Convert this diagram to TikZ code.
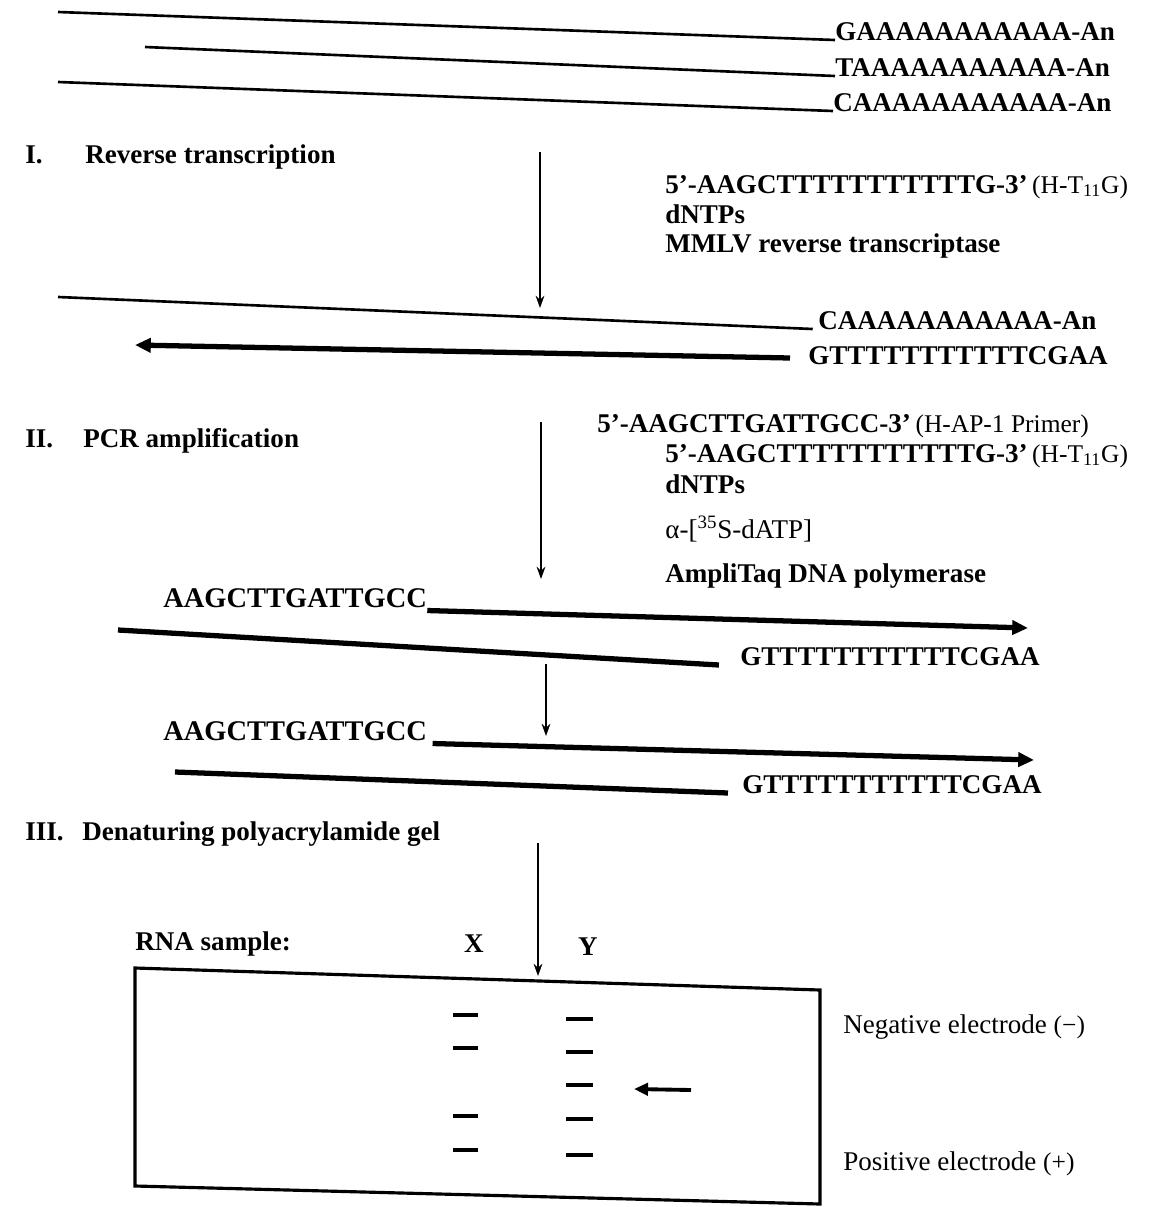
\documentclass[tikz,border=0pt]{standalone}
\usepackage{fontspec}
\setmainfont{Liberation Serif}
\usetikzlibrary{arrows.meta}
\newcommand{\tagfont}{\fontsize{14.5}{16}\selectfont\mdseries}
\begin{document}
\begin{tikzpicture}[x=0.02cm,y=-0.02cm,
	txt/.style={inner sep=0pt,anchor=base west,font=\fontsize{15.4}{18}\selectfont\bfseries},
	plain/.style={inner sep=0pt,anchor=base west,font=\fontsize{15.4}{18}\selectfont},
	primer/.style={inner sep=0pt,anchor=base west,font=\fontsize{16.2}{19}\selectfont\bfseries},
	strand/.style={line width=1.5pt},
	newstrand/.style={line width=3pt},
	extend/.style={newstrand,-{Triangle[length=9pt,width=8pt]}},
	flow/.style={line width=0.8pt,-{Stealth[length=7pt,width=5pt]}},
	band/.style={line width=1.8pt}]
	\useasboundingbox (0,0) rectangle (1149,1207);
	
	% mRNA templates
	\coordinate (m1) at (58,12);
	\coordinate (m2) at (145,47);
	\coordinate (m3) at (58,82);
	\node[txt] (p1) at (835,40) {GAAAAAAAAAAA-An};
	\node[txt] (p2) at (835,76) {TAAAAAAAAAAA-An};
	\node[txt] (p3) at (833,111) {CAAAAAAAAAAA-An};
	\draw[strand] (m1) -- (p1.base west);
	\draw[strand] (m2) -- (p2.base west);
	\draw[strand] (m3) -- (p3.base west);
	
	% I. reverse transcription
	\node[txt] (n1) at (25,163) {I.};
	\node[txt] (rt) at (85,163) {Reverse transcription};
	\node[txt] (rta) at (665,193) {5’-AAGCTTTTTTTTTTTG-3’\,{\tagfont(H-T\textsubscript{11}G)}};
	\node[txt] (rtb) at (665,223) {dNTPs};
	\node[txt] (rtc) at (665,252) {MMLV reverse transcriptase};
	\coordinate (a1s) at (540,152);
	\coordinate (a1e) at (540,308);
	\draw[flow] (a1s) -- (a1e);
	
	\coordinate (m4) at (58,297);
	\node[txt] (p4) at (818,329) {CAAAAAAAAAAA-An};
	\draw[strand] (m4) -- ([xshift=-3pt]p4.base west);
	\coordinate (c1s) at (790,358);
	\coordinate (c1e) at (135,345);
	\node[txt] (q1) at (808,364) {GTTTTTTTTTTTCGAA};
	\draw[extend] (c1s) -- (c1e);
	
	% II. PCR amplification
	\node[txt] (n2) at (25,447) {II.};
	\node[txt] (pcr) at (83,447) {PCR amplification};
	\node[txt] (pa) at (597,432) {5’-AAGCTTGATTGCC-3’\,{\tagfont(H-AP-1 Primer)}};
	\node[txt] (pb) at (665,462) {5’-AAGCTTTTTTTTTTTG-3’\,{\tagfont(H-T\textsubscript{11}G)}};
	\node[txt] (pc) at (665,493) {dNTPs};
	\node[txt] (pd) at (665,538) {\mdseries α-[\textsuperscript{35}S-dATP]};
	\node[txt] (pe) at (665,582) {AmpliTaq DNA polymerase};
	\coordinate (a2s) at (541,422);
	\coordinate (a2e) at (541,579);
	\draw[flow] (a2s) -- (a2e);
	
	\node[primer] (f1) at (163,607) {AAGCTTGATTGCC};
	\coordinate (f1e) at (1028,628);
	\draw[extend] ([yshift=-2pt]f1.base east) -- (f1e);
	\coordinate (r1) at (118,630);
	\node[txt] (q2) at (740,665) {GTTTTTTTTTTTCGAA};
	\draw[newstrand] (r1) -- ([xshift=-12pt]q2.base west);
	
	\coordinate (a3s) at (546,664);
	\coordinate (a3e) at (546,736);
	\draw[flow] (a3s) -- (a3e);
	
	\node[primer] (f2) at (163,740) {AAGCTTGATTGCC};
	\coordinate (f2e) at (1034,760);
	\draw[extend] ([xshift=3pt,yshift=-2pt]f2.base east) -- (f2e);
	\coordinate (r2) at (175,772);
	\node[txt] (q3) at (742,793) {GTTTTTTTTTTTCGAA};
	\draw[newstrand] (r2) -- ([xshift=-8pt]q3.base west);
	
	% III. gel
	\node[txt] (n3) at (25,840) {III.};
	\node[txt] (gel) at (82,840) {Denaturing polyacrylamide gel};
	\coordinate (a4s) at (538,843);
	\coordinate (a4e) at (538,976);
	\draw[flow] (a4s) -- (a4e);
	
	\node[txt] (rna) at (135,950) {RNA sample:};
	\node[txt,anchor=base] (x) at (474,952) {X};
	\node[txt,anchor=base] (y) at (588,955) {Y};
	
	\draw[line width=1.8pt] (135,968) -- (820,990) -- (820,1204) -- (135,1186) -- cycle;
	
	\foreach \yy in {1015,1048,1116,1150}
		\draw[band] (453,\yy) -- (478,\yy);
	\foreach \yy in {1019,1052,1085,1119,1155}
		\draw[band] (566,\yy) -- (593,\yy);
	\coordinate (w1) at (691,1090);
	\coordinate (w2) at (634,1089);
	\draw[line width=2.2pt,-{Triangle[length=8pt,width=7pt]}] (w1) -- (w2);
	
	\node[plain] (neg) at (843,1033) {Negative electrode {\tagfont(−)}};
	\node[plain] (pos) at (843,1170) {Positive electrode {\tagfont(+)}};
\end{tikzpicture}
\end{document}
